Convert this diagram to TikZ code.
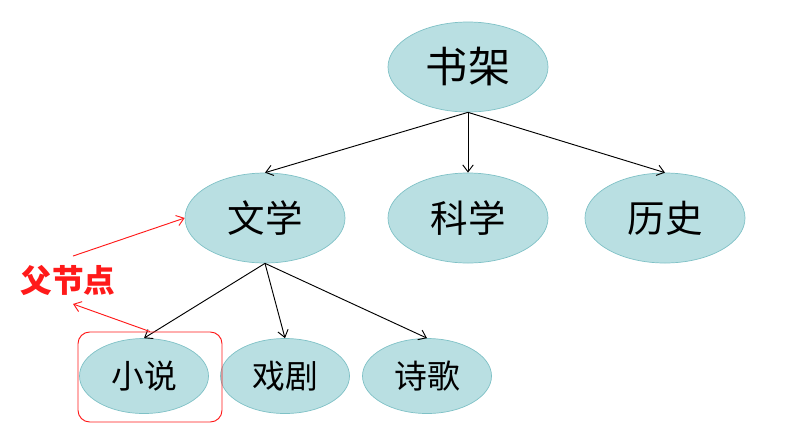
\documentclass[tikz,border=0pt]{standalone}
\usepackage{fontspec}
\newfontfamily\cjk{Noto Sans CJK SC}
\usetikzlibrary{shapes.geometric,arrows.meta}
\definecolor{nodefill}{HTML}{B9DFE2}
\definecolor{nodeline}{HTML}{7FC1C6}
\definecolor{notered}{HTML}{FF1A1A}

\begin{document}
\begin{tikzpicture}[x=0.03cm,y=-0.03cm,-{Straight Barb[length=6pt,width=9pt]},line width=0.8pt]
    		\tikzstyle{shelf}=[ellipse,draw=nodeline,fill=nodefill,line width=0.6pt,inner sep=0pt]
    		\tikzstyle{top shelf}=[shelf,minimum width=4.8cm,minimum height=2.7cm,font=\cjk\fontsize{36}{36}\selectfont]
    		\tikzstyle{mid shelf}=[shelf,minimum width=4.8cm,minimum height=2.7cm,font=\cjk\fontsize{32}{32}\selectfont]
    		\tikzstyle{low shelf}=[shelf,minimum width=3.87cm,minimum height=2.25cm,font=\cjk\fontsize{28}{28}\selectfont]
    		\tikzstyle{red note}=[text=notered,font=\cjk\bfseries\fontsize{27}{27}\selectfont,minimum height=1.41cm,inner sep=0pt]
    		\useasboundingbox (0,0) rectangle (792,439);
    		
    		\node[top shelf] (shujia) at (468,67) {书架};
    		\node[mid shelf] (wenxue) at (265,218) {文学};
    		\node[mid shelf] (kexue) at (468,218) {科学};
    		\node[mid shelf] (lishi) at (665,218) {历史};
    		\node[low shelf] (xiaoshuo) at (144,376) {小说};
    		\node[low shelf] (xiju) at (285,376) {戏剧};
    		\node[low shelf] (shige) at (427,376) {诗歌};
    		\draw (shujia.south) -- (wenxue.north);
    		\draw (shujia.south) -- (kexue.north);
    		\draw (shujia.south) -- (lishi.north);
    		\draw (wenxue.south) -- (xiaoshuo.north);
    		\draw (wenxue.south) -- (xiju.north);
    		\draw (wenxue.south) -- (shige.north);
    		
    		\node[draw=notered,rounded corners=10pt,line width=0.8pt,minimum width=4.32cm,minimum height=2.7cm] (xsbox) at (150,377) {};
    		\node[red note] (fujiedian) at (68,280) {父节点};
    		\draw[notered] ([xshift=0.15cm]fujiedian.north) -- (wenxue.west);
    		\draw[notered] (xsbox.north) -- ([xshift=0.15cm]fujiedian.south);
    		
    	\end{tikzpicture}
\end{document}
